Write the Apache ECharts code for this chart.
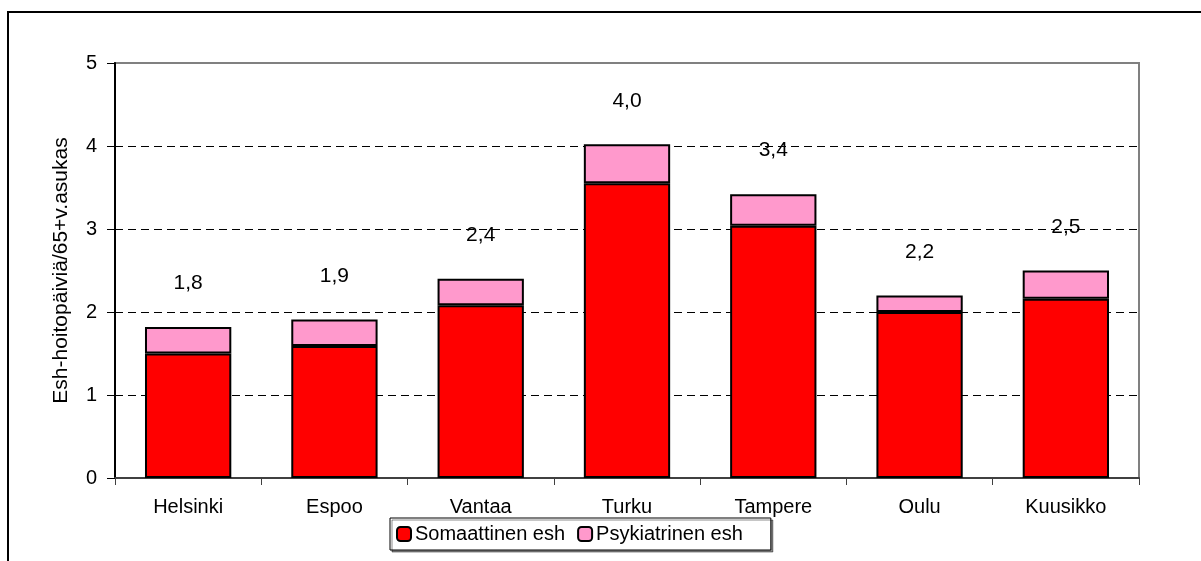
<!DOCTYPE html>
<html>
<head>
<meta charset="utf-8">
<script src="https://cdn.jsdelivr.net/npm/echarts@6/dist/echarts.min.js"></script>
<style>
html,body{margin:0;padding:0;background:#fff;}
#chart{width:1201px;height:561px;}
</style>
</head>
<body>
<div id="chart"></div>
<script>
const categories = ['Helsinki', 'Espoo', 'Vantaa', 'Turku', 'Tampere', 'Oulu', 'Kuusikko'];
const somaattinen = [1.50, 1.59, 2.08, 3.55, 3.04, 2.00, 2.16];
const psykiatrinen = [0.32, 0.32, 0.32, 0.47, 0.38, 0.20, 0.34];
const totalLabels = ['1,8', '1,9', '2,4', '4,0', '3,4', '2,2', '2,5'];
const yTicks = [0, 1, 2, 3, 4, 5];
const seriesNames = ['Somaattinen esh', 'Psykiatrinen esh'];
const yTitle = 'Esh-hoitopäiviä/65+v.asukas';

const FONT = '"Liberation Sans", Arial, sans-serif';
const chart = echarts.init(document.getElementById('chart'), null, {renderer: 'canvas'});

chart.setOption({
  animation: false,
  backgroundColor: '#fff',
  textStyle: {fontFamily: FONT},
  graphic: [{
    type: 'rect',
    shape: {x: 8, y: 12, width: 1210, height: 600},
    style: {fill: 'none', stroke: '#000', lineWidth: 2},
    silent: true, z: -1
  }],
  grid: {
    left: 115, top: 63, right: 62, bottom: 83,
    show: true, borderColor: '#808080', borderWidth: 2, backgroundColor: '#fff'
  },
  legend: {
    left: 390, top: 518,
    data: seriesNames,
    itemWidth: 14, itemHeight: 14, itemGap: 12,
    padding: [6, 28, 6, 6],
    borderColor: '#000', borderWidth: 1,
    backgroundColor: '#fff',
    shadowColor: 'rgba(0,0,0,0.45)', shadowOffsetX: 2, shadowOffsetY: 2, shadowBlur: 0,
    textStyle: {fontFamily: FONT, fontSize: 20, color: '#000', padding: [0, 0, 0, -1]},
    selectedMode: false
  },
  xAxis: {
    type: 'category',
    data: categories,
    boundaryGap: true,
    axisLine: {show: true, lineStyle: {color: '#404040', width: 2}},
    axisTick: {show: true, alignWithLabel: false, length: 7, lineStyle: {color: '#404040', width: 1}},
    axisLabel: {fontFamily: FONT, fontSize: 20, color: '#000', margin: 19}
  },
  yAxis: {
    type: 'value',
    min: yTicks[0], max: yTicks[yTicks.length - 1], interval: 1,
    name: yTitle,
    nameLocation: 'middle',
    nameGap: 43,
    nameRotate: 90,
    nameTextStyle: {fontFamily: FONT, fontSize: 21, color: '#000'},
    axisLine: {show: true, lineStyle: {color: '#000', width: 2}},
    axisTick: {show: true, length: 8, lineStyle: {color: '#000', width: 1}},
    axisLabel: {fontFamily: FONT, fontSize: 20, color: '#000', margin: 18},
    splitLine: {
      show: true, showMinLine: false, showMaxLine: false,
      lineStyle: {color: '#000', width: 1, type: [8, 5]}
    }
  },
  series: [
    {
      name: seriesNames[0],
      type: 'bar',
      stack: 'total',
      barWidth: '59%',
      data: somaattinen,
      itemStyle: {color: '#FF0000', borderColor: '#000', borderWidth: 2}
    },
    {
      name: seriesNames[1],
      type: 'bar',
      stack: 'total',
      barWidth: '59%',
      data: psykiatrinen,
      itemStyle: {color: '#FF99CC', borderColor: '#000', borderWidth: 2},
      label: {
        show: true,
        position: 'top',
        distance: 33,
        fontFamily: FONT,
        fontSize: 21,
        color: '#000',
        formatter: p => totalLabels[p.dataIndex]
      }
    }
  ]
});
</script>
</body>
</html>
